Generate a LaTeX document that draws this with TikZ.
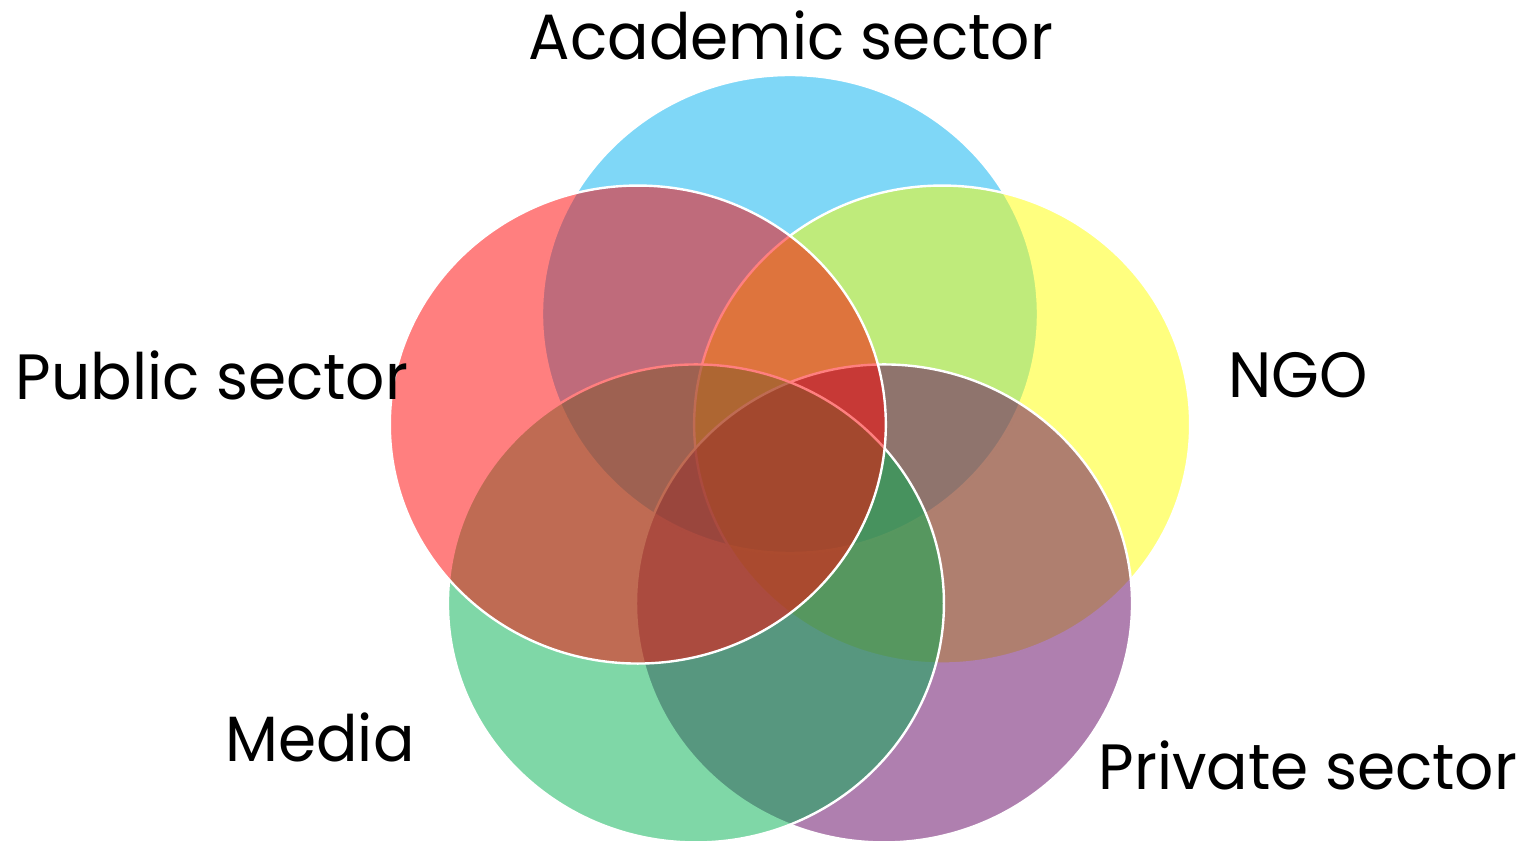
\documentclass[tikz,border=0pt]{standalone}
\usepackage{fontspec}
\setmainfont{Poppins}[FakeStretch=0.96]
\usetikzlibrary{shapes.geometric}
\definecolor{academiccol}{RGB}{0,176,240}
\definecolor{ngocol}{RGB}{255,255,0}
\definecolor{privatecol}{RGB}{96,0,96}
\definecolor{mediacol}{RGB}{0,176,80}
\definecolor{publiccol}{RGB}{255,0,0}
\begin{document}
\begin{tikzpicture}[x=1pt,y=1pt,
    set/.style={ellipse,draw=white,line width=1.2pt,fill opacity=0.5,
      minimum width=248pt,minimum height=239pt,inner sep=0pt},
    sector/.style={anchor=base,inner sep=0pt,font=\fontsize{32}{38}\selectfont}]
  \useasboundingbox (-395,-185.5) rectangle (368.5,237);
  \path
    (90:80) node[set,fill=academiccol] (academic) {}
    (18:80) node[set,fill=ngocol] (ngo) {}
    (-54:80) node[set,fill=privatecol] (private) {}
    (-126:80) node[set,fill=mediacol] (media) {}
    (162:80) node[set,fill=publiccol] (public) {};
  \begin{scope}[every node/.style={sector}]
    \node (academictext) at (0.5,207) {Academic sector};
    \node (publictext) at (-289,37) {Public sector};
    \node (ngotext) at (254,38) {NGO};
    \node (mediatext) at (-235,-144) {Media};
    \node (privatetext) at (259,-158) {Private sector};
  \end{scope}
\end{tikzpicture}
\end{document}
